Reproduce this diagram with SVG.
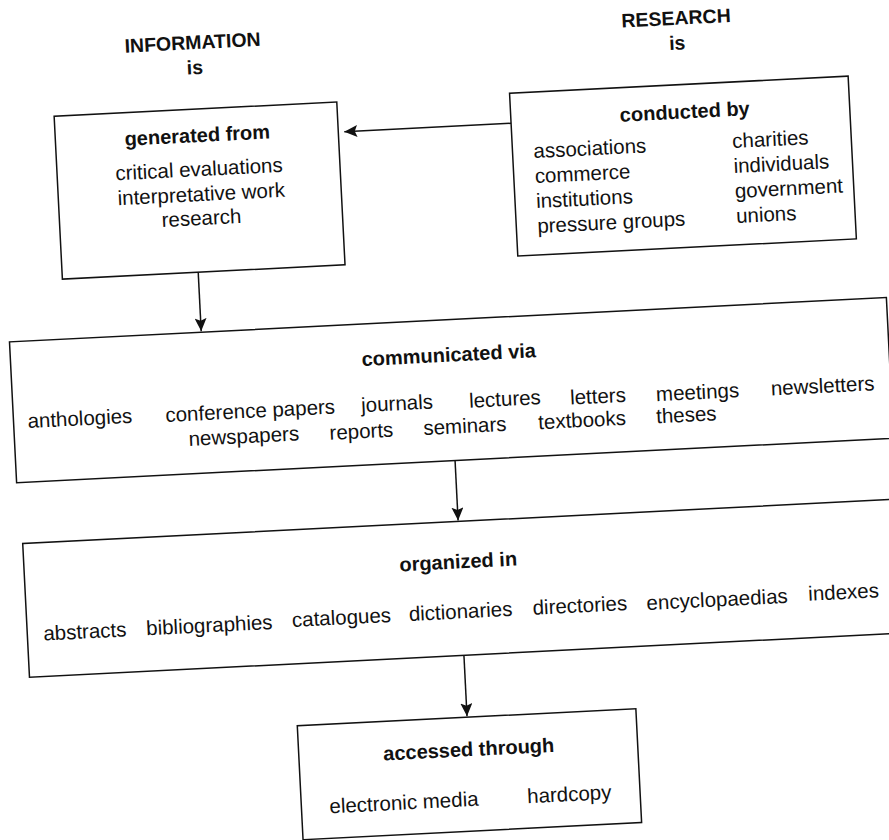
<svg xmlns="http://www.w3.org/2000/svg" width="889" height="840" viewBox="0 0 889 840">
<style>
  .box { fill: none; stroke: #111; stroke-width: 1.5; }
  .conn { fill: none; stroke: #111; stroke-width: 1.5; }
  .title { font-family: "Liberation Sans", Arial, sans-serif; font-weight: bold; font-size: 19.5px; fill: #111; text-anchor: middle; }
  .head { font-family: "Liberation Sans", Arial, sans-serif; font-weight: bold; font-size: 20px; fill: #111; text-anchor: middle; }
  .item { font-family: "Liberation Sans", Arial, sans-serif; font-size: 20.5px; fill: #111; }
  .mid { text-anchor: middle; }
</style>
<defs>
  <marker id="ah" viewBox="0 0 13 12" refX="13" refY="6" markerWidth="13" markerHeight="12" markerUnits="userSpaceOnUse" orient="auto">
    <path d="M0,0 L13,6 L0,12 L2.5,6 z" fill="#111"/>
  </marker>
</defs>
<rect width="889" height="840" fill="#fff"/>
<g transform="rotate(-2.9 444 420)">
  <g id="title-information">
    <text class="title" x="212" y="37">INFORMATION</text>
    <text class="title" x="213" y="62">is</text>
  </g>
  <g id="title-research">
    <text class="title" x="696" y="37">RESEARCH</text>
    <text class="title" x="696" y="62">is</text>
  </g>
  <g id="generated">
    <rect class="box" x="70" y="97" width="283" height="163"/>
    <text class="head" x="212" y="130">generated from</text>
    <text class="item mid" x="212" y="164">critical evaluations</text>
    <text class="item mid" x="213" y="189">interpretative work</text>
    <text class="item mid" x="212" y="213">research</text>
  </g>
  <g id="conducted">
    <rect class="box" x="526" y="97" width="339" height="163"/>
    <text class="head" x="700" y="131">conducted by</text>
    <text class="item" x="547" y="163">associations</text>
    <text class="item" x="547" y="188">commerce</text>
    <text class="item" x="547" y="213">institutions</text>
    <text class="item" x="547" y="238">pressure groups</text>
    <text class="item" x="746" y="163">charities</text>
    <text class="item" x="746" y="188">individuals</text>
    <text class="item" x="746" y="213">government</text>
    <text class="item" x="746" y="238">unions</text>
  </g>
  <g id="communicated">
    <rect class="box" x="14" y="320" width="878" height="141"/>
    <text class="head" x="452" y="362">communicated via</text>
    <text class="item" x="28" y="407">anthologies</text>
    <text class="item" x="166" y="408">conference papers</text>
    <text class="item" x="362" y="408">journals</text>
    <text class="item" x="470" y="409">lectures</text>
    <text class="item" x="571" y="411">letters</text>
    <text class="item" x="657" y="412">meetings</text>
    <text class="item" x="772" y="412">newsletters</text>
    <text class="item" x="188" y="433">newspapers</text>
    <text class="item" x="329" y="434">reports</text>
    <text class="item" x="423" y="434">seminars</text>
    <text class="item" x="538" y="434">textbooks</text>
    <text class="item" x="656" y="434">theses</text>
  </g>
  <g id="organized">
    <rect class="box" x="17" y="522" width="878" height="134"/>
    <text class="head" x="451" y="569">organized in</text>
    <text class="item" x="33" y="620">abstracts</text>
    <text class="item" x="136" y="620">bibliographies</text>
    <text class="item" x="282" y="619">catalogues</text>
    <text class="item" x="399" y="619">dictionaries</text>
    <text class="item" x="523" y="619">directories</text>
    <text class="item" x="637" y="620">encyclopaedias</text>
    <text class="item" x="799" y="619">indexes</text>
  </g>
  <g id="accessed">
    <rect class="box" x="282" y="718" width="339" height="114"/>
    <text class="head" x="452" y="757">accessed through</text>
    <text class="item" x="310" y="807">electronic media</text>
    <text class="item" x="508" y="807">hardcopy</text>
  </g>
  <g id="connectors">
    <path class="conn" d="M526,127 L359,127" marker-end="url(#ah)"/>
    <path class="conn" d="M206,260 L206,319" marker-end="url(#ah)"/>
    <path class="conn" d="M453,461 L453,521" marker-end="url(#ah)"/>
    <path class="conn" d="M452,656 L452,717" marker-end="url(#ah)"/>
  </g>
</g>
</svg>
